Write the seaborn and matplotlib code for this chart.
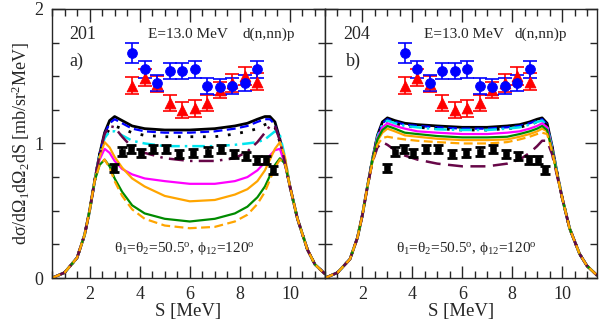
import pandas as pd
import matplotlib
matplotlib.use('Agg')
import matplotlib.pyplot as plt
from matplotlib.ticker import MultipleLocator
import seaborn as sns

# theory grid (S in MeV)
S = [0.5, 1.0, 1.5, 1.8, 2.0, 2.2, 2.4, 2.6, 2.8, 3.0, 3.3, 3.7, 4.2, 5.0, 6.0,
     7.0, 7.8, 8.3, 8.7, 9.0, 9.2, 9.4, 9.6, 9.8, 10.0, 10.3, 10.7, 11.0, 11.4]

# panel a) 201
rise_a = [0.00, 0.04, 0.15, 0.32, 0.50, 0.72]
fall_a = [0.68, 0.44, 0.21, 0.10, 0.03]
black_a = [0.92, 1.08, 1.17, 1.20, 1.17, 1.13, 1.11, 1.10, 1.10, 1.11, 1.13, 1.15, 1.18, 1.20, 1.20, 1.16, 1.03, 0.86]
blue_a = [0.92, 1.07, 1.15, 1.18, 1.15, 1.11, 1.09, 1.08, 1.08, 1.09, 1.11, 1.13, 1.16, 1.18, 1.18, 1.14, 1.02, 0.86]
dot_a = [0.92, 1.05, 1.11, 1.13, 1.11, 1.08, 1.06, 1.05, 1.05, 1.05, 1.07, 1.09, 1.11, 1.14, 1.15, 1.12, 1.01, 0.85]
cyan_a = [0.92, 1.04, 1.09, 1.09, 1.06, 1.02, 1.00, 0.98, 0.98, 0.98, 0.99, 1.00, 1.01, 1.03, 1.06, 1.09, 1.06, 0.90]
maroon_a = [0.92, 1.07, 1.13, 1.12, 1.05, 0.97, 0.93, 0.89, 0.87, 0.87, 0.89, 0.94, 1.01, 1.08, 1.13, 1.13, 1.02, 0.86]
magenta_a = [0.88, 0.96, 0.93, 0.87, 0.81, 0.77, 0.74, 0.72, 0.70, 0.70, 0.72, 0.75, 0.80, 0.86, 0.91, 0.95, 0.96, 0.84]
orange_a = [0.90, 1.01, 0.97, 0.90, 0.82, 0.74, 0.68, 0.61, 0.57, 0.58, 0.62, 0.66, 0.72, 0.80, 0.88, 0.96, 1.01, 0.90]
green_a = [0.84, 0.88, 0.83, 0.74, 0.64, 0.54, 0.48, 0.44, 0.42, 0.44, 0.48, 0.53, 0.60, 0.68, 0.76, 0.84, 0.89, 0.85]
orange_d_a = [0.84, 0.88, 0.82, 0.72, 0.61, 0.51, 0.44, 0.39, 0.37, 0.38, 0.42, 0.47, 0.55, 0.64, 0.73, 0.82, 0.88, 0.85]

# panel b) 204
rise_b = [0.00, 0.04, 0.14, 0.30, 0.47, 0.68]
fall_b = [0.60, 0.37, 0.18, 0.09, 0.02]
black_b = [0.88, 1.06, 1.16, 1.19, 1.17, 1.15, 1.14, 1.13, 1.12, 1.12, 1.13, 1.14, 1.16, 1.18, 1.19, 1.15, 0.98, 0.78]
blue_b = [0.88, 1.05, 1.15, 1.18, 1.16, 1.14, 1.13, 1.12, 1.11, 1.11, 1.12, 1.13, 1.15, 1.17, 1.18, 1.14, 0.97, 0.78]
dot_b = [0.88, 1.05, 1.14, 1.17, 1.15, 1.13, 1.12, 1.11, 1.10, 1.10, 1.11, 1.12, 1.14, 1.16, 1.17, 1.13, 0.97, 0.78]
cyan_b = [0.88, 1.05, 1.14, 1.17, 1.15, 1.13, 1.12, 1.105, 1.10, 1.10, 1.11, 1.12, 1.14, 1.16, 1.17, 1.13, 0.97, 0.78]
magenta_b = [0.88, 1.04, 1.12, 1.15, 1.13, 1.11, 1.09, 1.08, 1.07, 1.07, 1.08, 1.09, 1.11, 1.13, 1.15, 1.12, 0.96, 0.77]
green_b = [0.88, 1.03, 1.10, 1.13, 1.11, 1.08, 1.07, 1.055, 1.045, 1.045, 1.05, 1.07, 1.09, 1.11, 1.13, 1.10, 0.95, 0.77]
orange_b = [0.87, 1.02, 1.08, 1.11, 1.09, 1.06, 1.05, 1.035, 1.025, 1.025, 1.03, 1.05, 1.07, 1.09, 1.11, 1.09, 0.95, 0.77]
orange_d_b = [0.86, 0.99, 1.04, 1.05, 1.04, 1.03, 1.02, 1.01, 1.00, 1.00, 1.01, 1.03, 1.05, 1.07, 1.08, 1.07, 0.94, 0.77]
maroon_b = [0.86, 0.97, 1.01, 0.99, 0.95, 0.91, 0.88, 0.85, 0.83, 0.83, 0.85, 0.88, 0.93, 0.98, 1.02, 1.02, 0.92, 0.76]

# experimental points (same in both panels)
S_exp = [3.7, 4.2, 4.7, 5.2, 5.7, 6.2, 6.7, 7.2, 7.7, 8.2, 8.7]
blue_pts = [1.67, 1.55, 1.45, 1.54, 1.54, 1.55, 1.43, 1.42, 1.43, 1.45, 1.55]
blue_err = [0.075, 0.06, 0.06, 0.06, 0.06, 0.06, 0.06, 0.06, 0.06, 0.06, 0.065]
red_pts = [1.43, 1.49, 1.44, 1.30, 1.25, 1.26, 1.30, 1.40, 1.45, 1.50, 1.46]
red_err = [0.065, 0.065, 0.06, 0.06, 0.06, 0.06, 0.06, 0.06, 0.065, 0.065, 0.065]
S_sq = [2.97, 3.31, 3.67, 4.04, 4.53, 5.04, 5.57, 6.13, 6.71, 7.24, 7.76, 8.23, 8.67, 9.03, 9.31]
sq_pts = [0.82, 0.94, 0.96, 0.93, 0.96, 0.96, 0.92, 0.93, 0.94, 0.96, 0.92, 0.91, 0.88, 0.88, 0.80]
sq_err = [0.03] * len(S_sq)

sns.set_style('ticks')
plt.rcParams['font.family'] = ['Liberation Serif', 'DejaVu Serif']
plt.rcParams['mathtext.fontset'] = 'custom'
plt.rcParams['mathtext.rm'] = 'Liberation Serif'
plt.rcParams['mathtext.it'] = 'Liberation Serif'

MAROON = '#670748'
styles = {
    'black':    dict(color='black', lw=2.0, ls='-'),
    'blue':     dict(color='#0000ff', lw=1.6, ls=(0, (4, 2))),
    'dot':      dict(color='black', lw=2.0, ls=(0, (1, 3.5))),
    'cyan':     dict(color='#00e5ee', lw=1.8, ls=(0, (5, 2, 1, 2))),
    'maroon':   dict(color=MAROON, lw=1.8, ls=(0, (6, 2.5, 1, 2.5))),
    'magenta':  dict(color='#ff00ff', lw=1.6, ls='-'),
    'orange':   dict(color='#ffa500', lw=1.6, ls='-'),
    'green':    dict(color='#008b00', lw=1.6, ls='-'),
    'orange_d': dict(color='#ffa500', lw=1.6, ls=(0, (4, 2))),
}
# maroon drawn plain dashed in panel b
maroon_b_style = dict(color=MAROON, lw=1.8, ls=(0, (6, 3)))

# drawing order: first ones end up underneath
order = ['black', 'blue', 'dot', 'cyan', 'magenta', 'orange', 'green', 'maroon', 'orange_d']
curves_a = {'black': black_a, 'blue': blue_a, 'dot': dot_a, 'cyan': cyan_a,
            'maroon': maroon_a, 'magenta': magenta_a, 'orange': orange_a,
            'green': green_a, 'orange_d': orange_d_a}
curves_b = {'black': black_b, 'blue': blue_b, 'dot': dot_b, 'cyan': cyan_b,
            'magenta': magenta_b, 'green': green_b, 'orange': orange_b,
            'orange_d': orange_d_b, 'maroon': maroon_b}

fig = plt.figure(figsize=(6.0, 3.25), dpi=100)
ax1 = fig.add_axes([0.0867, 0.1446, 0.455, 0.828])
ax2 = fig.add_axes([0.5417, 0.1446, 0.4533, 0.828])


def draw_panel(ax, rise, fall, curves, right=False):
    for name in order:
        st = styles[name]
        if right and name == 'maroon':
            st = maroon_b_style
        df = pd.DataFrame({'S': S, 'y': rise + curves[name] + fall})
        sns.lineplot(data=df, x='S', y='y', ax=ax, color=st['color'], lw=st['lw'],
                     linestyle=st['ls'], estimator=None, sort=False, legend=False)

    ax.errorbar(S_sq, sq_pts, yerr=sq_err, fmt='none', ecolor='black',
                elinewidth=1.5, capsize=3.8, capthick=2.0, zorder=5)
    sns.scatterplot(x=S_sq, y=sq_pts, ax=ax, marker='s', s=24, color='black',
                    edgecolor='black', zorder=6, legend=False)
    ax.errorbar(S_exp, red_pts, yerr=red_err, fmt='none', ecolor='#ff0000',
                elinewidth=1.2, capsize=5, capthick=1.2, zorder=5)
    sns.scatterplot(x=S_exp, y=red_pts, ax=ax, marker='^', s=60, color='#ff0000',
                    edgecolor='#ff0000', zorder=6, legend=False)
    ax.errorbar(S_exp, blue_pts, yerr=blue_err, fmt='none', ecolor='#0000ff',
                elinewidth=1.2, capsize=5, capthick=1.2, zorder=5)
    sns.scatterplot(x=S_exp, y=blue_pts, ax=ax, marker='o', s=50, color='#0000ff',
                    edgecolor='#0000ff', zorder=7, legend=False)

    ax.set_xlim(0.5, 11.4)
    ax.set_ylim(0, 2)
    ax.set_xticks([2, 4, 6, 8, 10])
    ax.xaxis.set_minor_locator(MultipleLocator(0.5))
    ax.yaxis.set_major_locator(MultipleLocator(1))
    ax.yaxis.set_minor_locator(MultipleLocator(0.25))
    ax.tick_params(which='both', direction='in', top=True, right=True, labelsize=13, pad=6)
    ax.tick_params(which='major', length=9, width=1.0)
    ax.tick_params(which='minor', length=5, width=1.0)
    for sp in ax.spines.values():
        sp.set_linewidth(1.0)
    ax.set_xlabel('S [MeV]', fontsize=13.5, labelpad=0)
    ax.set_ylabel('')


draw_panel(ax1, rise_a, fall_a, curves_a)
draw_panel(ax2, rise_b, fall_b, curves_b, right=True)

ax1.set_ylabel(r'd$\sigma$/d$\Omega_1$d$\Omega_2$dS [mb/sr$^2$MeV]', fontsize=13, labelpad=2)
ax2.tick_params(labelleft=False)

angles = r'$\theta_1$=$\theta_2$=50.5$^o$, $\phi_{12}$=120$^o$'
ax1.text(1.2, 1.81, '201', fontsize=13, va='center')
ax1.text(1.2, 1.61, 'a)', fontsize=13, va='center')
ax1.text(4.32, 1.81, 'E=13.0 MeV', fontsize=11, va='center')
ax1.text(8.1, 1.81, 'd(n,nn)p', fontsize=11, va='center')
ax1.text(5.8, 0.22, angles, fontsize=11, ha='center', va='center')

ax2.text(1.25, 1.81, '204', fontsize=13, va='center')
ax2.text(1.33, 1.61, 'b)', fontsize=13, va='center')
ax2.text(4.46, 1.81, 'E=13.0 MeV', fontsize=11, va='center')
ax2.text(8.08, 1.81, 'd(n,nn)p', fontsize=11, va='center')
ax2.text(6.15, 0.22, angles, fontsize=11, ha='center', va='center')

fig.savefig('out.png', dpi=100)
